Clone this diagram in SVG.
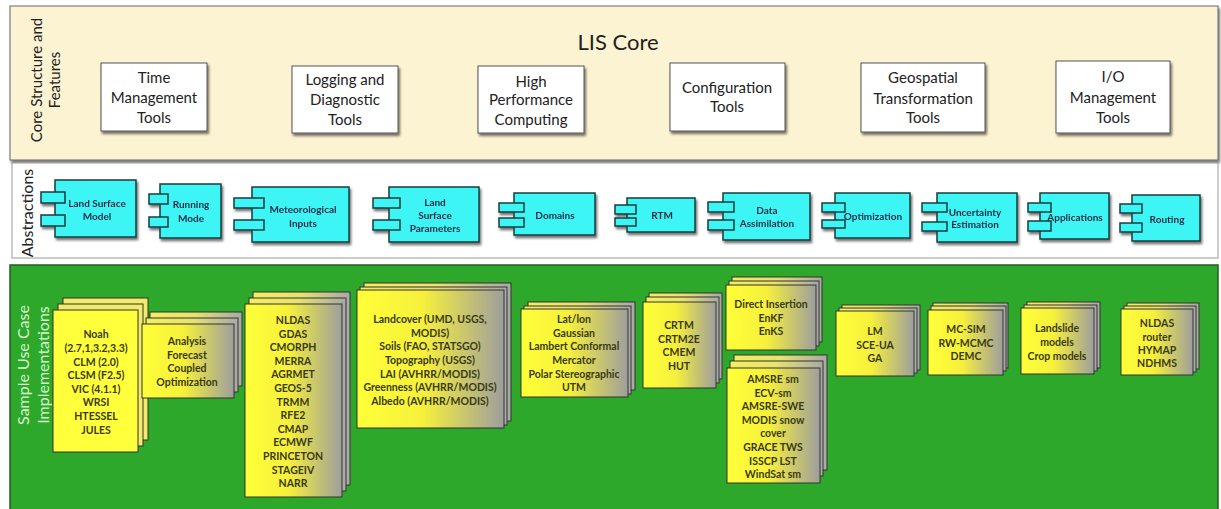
<svg xmlns="http://www.w3.org/2000/svg" width="1221" height="509" viewBox="0 0 1221 509">
<style>
.t{font-family:Lato,"Liberation Sans",sans-serif;fill:#222;font-size:15px;text-anchor:middle}
.title{font-size:22px}
.vt{font-family:Lato,"Liberation Sans",sans-serif;fill:#222;font-size:15px;text-anchor:middle}
.vg{fill:#D8F5CC;font-size:16px}
.box{fill:#fff;stroke:#555;stroke-width:1}
.cy{fill:#3DF5F5;stroke:#1C3C3C;stroke-width:1.5}
.ct{font-family:Lato,"Liberation Sans",sans-serif;fill:#1B2B45;font-size:10px;font-weight:bold;text-anchor:middle}
.card{fill:url(#g);stroke:#333;stroke-width:1}
.cardb{fill:url(#gb);stroke:#333;stroke-width:1}
.sy{fill:#FFFF3C;stroke:#333;stroke-width:1}
.syb{fill:#F2EC6A;stroke:#333;stroke-width:1}
.kt{font-family:Lato,"Liberation Sans",sans-serif;fill:#3A3A12;font-size:10.5px;font-weight:bold;text-anchor:middle}
</style>
<defs>
<linearGradient id="g" x1="0" y1="0" x2="1" y2="0">
<stop offset="0" stop-color="#FFFF38"/><stop offset="0.45" stop-color="#F6F03C"/><stop offset="1" stop-color="#9E9E9E"/>
</linearGradient>
<linearGradient id="gb" x1="0" y1="0" x2="1" y2="0">
<stop offset="0" stop-color="#F4EE60"/><stop offset="0.5" stop-color="#E8E270"/><stop offset="1" stop-color="#A8A8A8"/>
</linearGradient>
<filter id="sh" x="-10%" y="-10%" width="130%" height="140%">
<feDropShadow dx="1.5" dy="2.5" stdDeviation="1.2" flood-color="#000" flood-opacity="0.55"/>
</filter>
</defs>
<rect width="1221" height="509" fill="#fff"/>

<g id="core-panel">
<rect x="10" y="6" width="1208" height="154" fill="#FCF3D2" stroke="#666" filter="url(#sh)"/>
<text class="t title" x="618" y="50">LIS Core</text>
<g transform="translate(42,80) rotate(-90)"><text class="vt" x="0" y="0">Core Structure and</text></g>
<g transform="translate(60,80) rotate(-90)"><text class="vt" x="0" y="0">Features</text></g>
</g>

<g id="time-mgmt"><rect class="box" x="101" y="63" width="106" height="68" filter="url(#sh)"/>
<text class="t" x="154" y="83">Time</text><text class="t" x="154" y="103">Management</text><text class="t" x="154" y="123">Tools</text></g>
<g id="logging"><rect class="box" x="292" y="66" width="106" height="67" filter="url(#sh)"/>
<text class="t" x="345" y="85">Logging and</text><text class="t" x="345" y="105">Diagnostic</text><text class="t" x="345" y="125">Tools</text></g>
<g id="hpc"><rect class="box" x="478" y="66" width="106" height="67" filter="url(#sh)"/>
<text class="t" x="531" y="87">High</text><text class="t" x="531" y="105">Performance</text><text class="t" x="531" y="125">Computing</text></g>
<g id="config"><rect class="box" x="670" y="63" width="115" height="68" filter="url(#sh)"/>
<text class="t" x="727" y="93">Configuration</text><text class="t" x="727" y="112">Tools</text></g>
<g id="geospatial"><rect class="box" x="861" y="63" width="124" height="69" filter="url(#sh)"/>
<text class="t" x="923" y="83">Geospatial</text><text class="t" x="923" y="104">Transformation</text><text class="t" x="923" y="123">Tools</text></g>
<g id="io-mgmt"><rect class="box" x="1056" y="61" width="114" height="72" filter="url(#sh)"/>
<text class="t" x="1113" y="82">I/O</text><text class="t" x="1113" y="103">Management</text><text class="t" x="1113" y="123">Tools</text></g>

<g id="abstractions-panel">
<rect x="12" y="163" width="1206" height="95" fill="#fff" stroke="#999"/>
<g transform="translate(33,213) rotate(-90)"><text class="vt" x="0" y="0" style="font-size:16px">Abstractions</text></g>
</g>

<g id="lsm" filter="url(#sh)"><rect class="cy" x="55" y="180" width="81" height="57"/><rect class="cy" x="41" y="192" width="24" height="11"/><rect class="cy" x="41" y="215" width="24" height="11"/>
<text class="ct" x="97" y="207">Land Surface</text><text class="ct" x="97" y="220">Model</text></g>
<g id="running-mode" filter="url(#sh)"><rect class="cy" x="160" y="184" width="61" height="54"/><rect class="cy" x="149" y="194" width="19" height="10"/><rect class="cy" x="149" y="217" width="19" height="10"/>
<text class="ct" x="191" y="208">Running</text><text class="ct" x="191" y="222">Mode</text></g>
<g id="met-inputs" filter="url(#sh)"><rect class="cy" x="252" y="187" width="97" height="55"/><rect class="cy" x="234" y="198" width="30" height="10"/><rect class="cy" x="234" y="220" width="30" height="10"/>
<text class="ct" x="303" y="213">Meteorological</text><text class="ct" x="303" y="227">Inputs</text></g>
<g id="lsp" filter="url(#sh)"><rect class="cy" x="389" y="187" width="90" height="55"/><rect class="cy" x="373" y="198" width="27" height="10"/><rect class="cy" x="373" y="220" width="27" height="10"/>
<text class="ct" x="435" y="206">Land</text><text class="ct" x="435" y="219">Surface</text><text class="ct" x="435" y="232">Parameters</text></g>
<g id="domains" filter="url(#sh)"><rect class="cy" x="514" y="193" width="81" height="42"/><rect class="cy" x="499" y="203" width="25" height="9"/><rect class="cy" x="499" y="218" width="25" height="9"/>
<text class="ct" x="555" y="219">Domains</text></g>
<g id="rtm" filter="url(#sh)"><rect class="cy" x="627" y="198" width="68" height="34"/><rect class="cy" x="615" y="205" width="21" height="9"/><rect class="cy" x="615" y="218" width="21" height="8"/>
<text class="ct" x="662" y="219">RTM</text></g>
<g id="data-assim" filter="url(#sh)"><rect class="cy" x="723" y="193" width="87" height="47"/><rect class="cy" x="708" y="202" width="26" height="10"/><rect class="cy" x="708" y="220" width="26" height="10"/>
<text class="ct" x="767" y="214">Data</text><text class="ct" x="767" y="227">Assimilation</text></g>
<g id="optimization" filter="url(#sh)"><rect class="cy" x="835" y="193" width="75" height="45"/><rect class="cy" x="822" y="203" width="23" height="9"/><rect class="cy" x="822" y="220" width="23" height="8"/>
<text class="ct" x="873" y="220">Optimization</text></g>
<g id="uncertainty" filter="url(#sh)"><rect class="cy" x="937" y="193" width="80" height="49"/><rect class="cy" x="922" y="203" width="25" height="9"/><rect class="cy" x="922" y="222" width="25" height="9"/>
<text class="ct" x="975" y="216">Uncertainty</text><text class="ct" x="975" y="228">Estimation</text></g>
<g id="applications" filter="url(#sh)"><rect class="cy" x="1040" y="193" width="69" height="46"/><rect class="cy" x="1028" y="203" width="23" height="9"/><rect class="cy" x="1028" y="221" width="23" height="10"/>
<text class="ct" x="1075" y="221">Applications</text></g>
<g id="routing" filter="url(#sh)"><rect class="cy" x="1132" y="195" width="68" height="46"/><rect class="cy" x="1120" y="204" width="22" height="9"/><rect class="cy" x="1120" y="223" width="22" height="9"/>
<text class="ct" x="1167" y="223">Routing</text></g>

<g id="implementations-panel">
<rect x="10" y="265" width="1208" height="250" fill="#2EA82B" stroke="#245A24" stroke-width="1.5"/>
<g transform="translate(29,365) rotate(-90)"><text class="vt vg" x="0" y="0">Sample Use Case</text></g>
<g transform="translate(49,365) rotate(-90)"><text class="vt vg" x="0" y="0">Implementations</text></g>
</g>

<g id="lsm-impl">
<rect class="syb" x="63" y="298" width="85" height="142"/><rect class="syb" x="58" y="304" width="85" height="142"/><rect class="sy" x="53" y="310" width="85" height="142"/>
<text class="kt" x="96" y="338">Noah</text><text class="kt" x="96" y="352">(2.7,1,3.2,3.3)</text><text class="kt" x="96" y="366">CLM (2.0)</text><text class="kt" x="96" y="379">CLSM (F2.5)</text><text class="kt" x="96" y="393">VIC (4.1.1)</text><text class="kt" x="96" y="406">WRSI</text><text class="kt" x="96" y="420">HTESSEL</text><text class="kt" x="96" y="434">JULES</text></g>

<g id="mode-impl">
<rect class="cardb" x="150" y="312" width="92" height="74"/><rect class="cardb" x="146" y="318" width="92" height="74"/><rect class="card" x="142" y="324" width="92" height="74"/>
<text class="kt" x="187" y="345">Analysis</text><text class="kt" x="187" y="359">Forecast</text><text class="kt" x="187" y="372">Coupled</text><text class="kt" x="187" y="386">Optimization</text></g>

<g id="met-impl">
<rect class="cardb" x="253" y="292" width="97" height="193"/><rect class="cardb" x="249" y="298" width="97" height="193"/><rect class="card" x="245" y="304" width="97" height="193"/>
<text class="kt" x="293" y="324">NLDAS</text><text class="kt" x="293" y="338">GDAS</text><text class="kt" x="293" y="351">CMORPH</text><text class="kt" x="293" y="365">MERRA</text><text class="kt" x="293" y="378">AGRMET</text><text class="kt" x="293" y="392">GEOS-5</text><text class="kt" x="293" y="406">TRMM</text><text class="kt" x="293" y="419">RFE2</text><text class="kt" x="293" y="433">CMAP</text><text class="kt" x="293" y="446">ECMWF</text><text class="kt" x="293" y="460">PRINCETON</text><text class="kt" x="293" y="474">STAGEIV</text><text class="kt" x="293" y="487">NARR</text></g>

<g id="param-impl">
<rect class="cardb" x="364" y="283" width="147" height="138"/><rect class="cardb" x="360" y="287" width="147" height="138"/><rect class="card" x="357" y="290" width="147" height="138"/>
<text class="kt" x="430" y="323">Landcover (UMD, USGS,</text><text class="kt" x="430" y="337">MODIS)</text><text class="kt" x="430" y="350">Soils (FAO, STATSGO)</text><text class="kt" x="430" y="364">Topography (USGS)</text><text class="kt" x="430" y="378">LAI (AVHRR/MODIS)</text><text class="kt" x="430" y="391">Greenness (AVHRR/MODIS)</text><text class="kt" x="430" y="405">Albedo (AVHRR/MODIS)</text></g>

<g id="domain-impl">
<rect class="cardb" x="528" y="302" width="107" height="88"/><rect class="cardb" x="524" y="306" width="107" height="88"/><rect class="card" x="521" y="309" width="107" height="88"/>
<text class="kt" x="574" y="323">Lat/lon</text><text class="kt" x="574" y="337">Gaussian</text><text class="kt" x="574" y="350">Lambert Conformal</text><text class="kt" x="574" y="364">Mercator</text><text class="kt" x="574" y="378">Polar Stereographic</text><text class="kt" x="574" y="391">UTM</text></g>

<g id="rtm-impl">
<rect class="cardb" x="649" y="293" width="73" height="86"/><rect class="cardb" x="646" y="297" width="73" height="86"/><rect class="card" x="643" y="302" width="73" height="86"/>
<text class="kt" x="679" y="329">CRTM</text><text class="kt" x="679" y="343">CRTM2E</text><text class="kt" x="679" y="356">CMEM</text><text class="kt" x="679" y="370">HUT</text></g>

<g id="da-alg-impl">
<rect class="cardb" x="732" y="277" width="90" height="65"/><rect class="cardb" x="729" y="281" width="90" height="65"/><rect class="card" x="726" y="285" width="90" height="65"/>
<text class="kt" x="771" y="308">Direct Insertion</text><text class="kt" x="771" y="322">EnKF</text><text class="kt" x="771" y="335">EnKS</text></g>

<g id="da-obs-impl">
<rect class="cardb" x="734" y="355" width="93" height="115"/><rect class="cardb" x="730" y="361" width="93" height="115"/><rect class="card" x="727" y="368" width="93" height="115"/>
<text class="kt" x="773" y="383">AMSRE sm</text><text class="kt" x="773" y="397">ECV-sm</text><text class="kt" x="773" y="410">AMSRE-SWE</text><text class="kt" x="773" y="424">MODIS snow</text><text class="kt" x="773" y="437">cover</text><text class="kt" x="773" y="451">GRACE TWS</text><text class="kt" x="773" y="465">ISSCP LST</text><text class="kt" x="773" y="478">WindSat sm</text></g>

<g id="opt-impl">
<rect class="cardb" x="842" y="305" width="78" height="65"/><rect class="cardb" x="839" y="308" width="78" height="65"/><rect class="card" x="836" y="311" width="78" height="65"/>
<text class="kt" x="875" y="335">LM</text><text class="kt" x="875" y="349">SCE-UA</text><text class="kt" x="875" y="362">GA</text></g>

<g id="ue-impl">
<rect class="cardb" x="933" y="303" width="75" height="65"/><rect class="cardb" x="931" y="306" width="75" height="65"/><rect class="card" x="928" y="310" width="75" height="65"/>
<text class="kt" x="966" y="333">MC-SIM</text><text class="kt" x="966" y="347">RW-MCMC</text><text class="kt" x="966" y="360">DEMC</text></g>

<g id="app-impl">
<rect class="cardb" x="1027" y="302" width="73" height="66"/><rect class="cardb" x="1024" y="305" width="73" height="66"/><rect class="card" x="1021" y="308" width="73" height="66"/>
<text class="kt" x="1057" y="332">Landslide</text><text class="kt" x="1057" y="346">models</text><text class="kt" x="1057" y="360">Crop models</text></g>

<g id="routing-impl">
<rect class="cardb" x="1127" y="303" width="72" height="66"/><rect class="cardb" x="1124" y="306" width="72" height="66"/><rect class="card" x="1121" y="309" width="72" height="66"/>
<text class="kt" x="1157" y="327">NLDAS</text><text class="kt" x="1157" y="341">router</text><text class="kt" x="1157" y="354">HYMAP</text><text class="kt" x="1157" y="367">NDHMS</text></g>

<g id="connectors"/>
</svg>
